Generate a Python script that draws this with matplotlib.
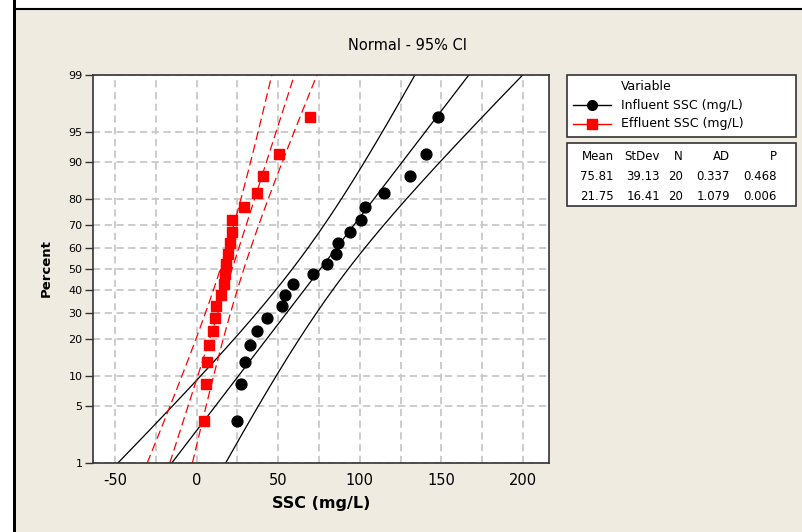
import numpy as np
import matplotlib.pyplot as plt
from matplotlib.lines import Line2D
from matplotlib.patches import Rectangle
from statistics import NormalDist

# Data (SSC, mg/L)
influent = [24.7, 27.0, 29.8, 32.9, 37.1, 43.0, 52.4, 54.0, 59.3, 71.5,
            80.1, 85.2, 86.8, 94.1, 100.8, 103.5, 114.7, 130.8, 140.7, 148.2]
effluent = [4.6, 5.6, 6.4, 7.4, 9.9, 11.5, 11.6, 15.0, 16.6, 17.6,
            18.2, 19.2, 20.6, 21.7, 21.8, 29.2, 37.0, 40.5, 50.4, 69.3]
series = ["Influent SSC (mg/L)", "Effluent SSC (mg/L)"]
means = [75.81, 21.75]
stdevs = [39.13, 16.41]
counts = [20, 20]
ad_stats = [0.337, 1.079]
p_values = [0.468, 0.006]
pct_ticks = [1, 5, 10, 20, 30, 40, 50, 60, 70, 80, 90, 95, 99]
x_ticks = [-50, 0, 50, 100, 150, 200]

W, H = 803, 532
bg = '#efebe1'
fig = plt.figure(figsize=(W / 100, H / 100), dpi=100, facecolor=bg)


def fx(px):
    return px / W


def fy(py):
    return 1 - py / H


# window frame like the Minitab graph window
fig.add_artist(Rectangle((0, fy(8)), 1, 1 - fy(8), transform=fig.transFigure,
                         facecolor='white', edgecolor='none', zorder=0))
fig.add_artist(Rectangle((0, 0), fx(13), 1, transform=fig.transFigure,
                         facecolor='white', edgecolor='none', zorder=0))
fig.add_artist(Rectangle((fx(13), 0), fx(3), 1, transform=fig.transFigure,
                         facecolor='black', edgecolor='none', zorder=1))
fig.add_artist(Line2D([fx(16), 1], [fy(8.5), fy(8.5)], transform=fig.transFigure,
                      color='black', lw=1.5))

ax = fig.add_axes([fx(93), fy(463), fx(549 - 93), fy(75) - fy(463)])
nd = NormalDist()
zq = nd.inv_cdf

ax.set_xlim(-63.5, 216)
ax.set_ylim(zq(0.01), zq(0.99))

# fitted lines and 95% confidence bands
zz = np.linspace(zq(0.01), zq(0.99), 200)
colors = ['black', '#ff0000']
styles = ['-', (0, (7, 3.5))]
for m, s, n, c, ls in zip(means, stdevs, counts, colors, styles):
    fit = m + s * zz
    hw = 1.96 * s * np.sqrt((1 + zz ** 2 / 2) / n)
    for line in (fit - hw, fit, fit + hw):
        ax.plot(line, zz, color=c, lw=0.9, ls=ls, zorder=2)

# data points with median-rank plotting positions
for vals, c, mk in zip([influent, effluent], colors, ['o', 's']):
    v = np.sort(vals)
    n = len(v)
    pos = [(i - 0.3) / (n + 0.4) for i in range(1, n + 1)]
    ax.plot(v, [zq(p) for p in pos], ls='none', marker=mk, color=c,
            markersize=7.8 if mk == 'o' else 7.2, zorder=3)

ax.set_yticks([zq(p / 100) for p in pct_ticks])
ax.set_yticklabels([str(p) for p in pct_ticks], fontsize=8)
ax.set_xticks(x_ticks)
ax.set_xticklabels([str(t) for t in x_ticks], fontsize=10.5)
ax.set_xticks(np.arange(-50, 201, 25), minor=True)
ax.tick_params(axis='x', which='both', length=0, pad=7)
ax.tick_params(axis='y', length=6, width=1, pad=1.5, color='#333333')
ax.grid(True, which='both', color='#c8c8c8', lw=1.3, ls=(0, (4, 2.5)), zorder=1)
for sp in ax.spines.values():
    sp.set_color('#333333')
    sp.set_linewidth(1.2)

ax.set_xlabel("SSC (mg/L)", fontsize=11.5, fontweight='bold', labelpad=6)
fig.text(fx(46), fy(268), "Percent", rotation=90, fontsize=9.5, fontweight='bold',
         ha='center', va='center')
fig.text(fx(408), fy(45), "Normal - 95% CI", fontsize=10.5, ha='center', va='center')

# legend box
fig.add_artist(Rectangle((fx(566.5), fy(137)), fx(230), fy(75) - fy(137),
                         transform=fig.transFigure, facecolor='white',
                         edgecolor='#333333', lw=1.2))
fig.text(fx(621), fy(86), "Variable", fontsize=9, ha='left', va='center')
for row, (name, c, mk) in enumerate(zip(series, colors, ['o', 's'])):
    yy = fy(105 + row * 18.5)
    fig.add_artist(Line2D([fx(573), fx(611)], [yy, yy], transform=fig.transFigure,
                          color=c, lw=1))
    fig.add_artist(Line2D([fx(592)], [yy], transform=fig.transFigure, color=c,
                          marker=mk, markersize=7, ls='none'))
    fig.text(fx(621.5), yy, name, fontsize=9, ha='left', va='center')

# statistics table
fig.add_artist(Rectangle((fx(566.5), fy(206)), fx(230), fy(143) - fy(206),
                         transform=fig.transFigure, facecolor='white',
                         edgecolor='#333333', lw=1.2))
col_x = [614, 660, 683, 730, 777]
headers = ["Mean", "StDev", "N", "AD", "P"]
for x, h in zip(col_x, headers):
    fig.text(fx(x), fy(157), h, fontsize=8.5, ha='right', va='center')
for row in range(2):
    cells = [f"{means[row]:.2f}", f"{stdevs[row]:.2f}", str(counts[row]),
             f"{ad_stats[row]:.3f}", f"{p_values[row]:.3f}"]
    for x, t in zip(col_x, cells):
        fig.text(fx(x), fy(176 + row * 20.5), t, fontsize=8.5, ha='right', va='center')

fig.savefig("out.png", dpi=100, facecolor=bg)
